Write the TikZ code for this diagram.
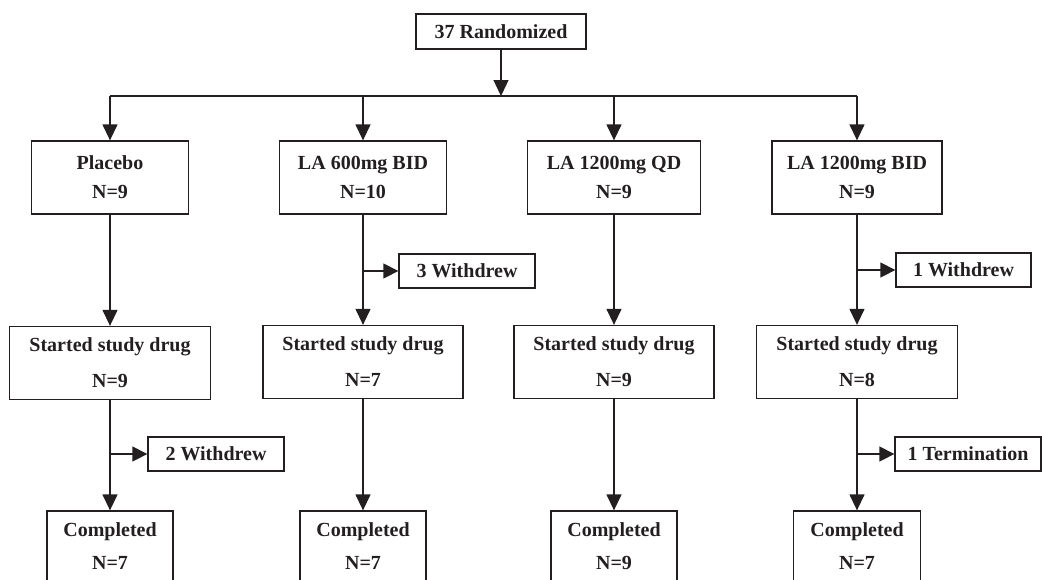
\documentclass[tikz,border=0pt]{standalone}
\usepackage{fontspec}
\setmainfont{Liberation Serif}
\usetikzlibrary{arrows.meta}
\definecolor{ink}{HTML}{231F20}
\begin{document}
\begin{tikzpicture}[x=1pt,y=-1pt,
  box/.style={draw=ink, text=ink, line width=1.3pt, inner sep=0pt, align=center,
    font=\fontsize{20}{24}\selectfont\bfseries},
  link/.style={draw=ink, line width=1.3pt},
  arr/.style={link, -{Triangle[length=16pt,width=15pt]}},
  sarr/.style={link, -{Triangle[length=15pt,width=15pt]}}]
\useasboundingbox (0,0) rectangle (1042,579);
% top
\node[box, minimum width=170pt, minimum height=35pt] (top) at (501,31.5) {37 Randomized};
% row 1
\node[box, minimum width=157pt, minimum height=73pt] (P1) at (110,177.5) {Placebo\\[5pt]N=9};
\node[box, minimum width=167pt, minimum height=73pt] (A1) at (363,177.5) {LA 600mg BID\\[5pt]N=10};
\node[box, minimum width=173pt, minimum height=73pt] (Q1) at (614,177.5) {LA 1200mg QD\\[5pt]N=9};
\node[box, minimum width=170pt, minimum height=73pt] (B1) at (857,177.5) {LA 1200mg BID\\[5pt]N=9};
% row 2
\node[box, minimum width=201pt, minimum height=73pt] (P2) at (110,363) {Started study drug\\[12pt]N=9};
\node[box, minimum width=200pt, minimum height=73pt] (A2) at (363,362) {Started study drug\\[12pt]N=7};
\node[box, minimum width=200pt, minimum height=73pt] (Q2) at (614,362) {Started study drug\\[12pt]N=9};
\node[box, minimum width=201pt, minimum height=73pt] (B2) at (857,362) {Started study drug\\[12pt]N=8};
% row 3
\node[box, minimum width=126pt, minimum height=70pt] (P3) at (110,546) {Completed\\[9pt]N=7};
\node[box, minimum width=126pt, minimum height=70pt] (A3) at (363,546) {Completed\\[9pt]N=7};
\node[box, minimum width=126pt, minimum height=70pt] (Q3) at (614,546) {Completed\\[9pt]N=9};
\node[box, minimum width=127pt, minimum height=70pt] (B3) at (857,546) {Completed\\[9pt]N=7};
% side boxes
\node[box, minimum width=136pt, minimum height=34pt] (W3) at (467,271) {3 Withdrew};
\node[box, minimum width=135pt, minimum height=34pt] (W1) at (963.5,270) {1 Withdrew};
\node[box, minimum width=136pt, minimum height=34pt] (W2) at (216,454) {2 Withdrew};
\node[box, minimum width=146pt, minimum height=34pt] (T1) at (968,454) {1 Termination};
% split
\coordinate (split) at (501,96);
\draw[arr] (top.south) -- (split);
\draw[link] (P1.north |- split) -- (B1.north |- split);
\foreach \n in {P1,A1,Q1,B1}{
  \draw[arr] (\n.north |- split) -- (\n.north);
}
% vertical flows
\draw[arr] (P1.south) -- (P2.north);
\draw[arr] (A1.south) -- (A2.north);
\draw[arr] (Q1.south) -- (Q2.north);
\draw[arr] (B1.south) -- (B2.north);
\draw[arr] (P2.south) -- (P3.north);
\draw[arr] (A2.south) -- (A3.north);
\draw[arr] (Q2.south) -- (Q3.north);
\draw[arr] (B2.south) -- (B3.north);
% side arrows
\draw[sarr] (A1.south |- W3.west) -- (W3.west);
\draw[sarr] (B1.south |- W1.west) -- (W1.west);
\draw[sarr] (P2.south |- W2.west) -- (W2.west);
\draw[sarr] (B2.south |- T1.west) -- (T1.west);
\end{tikzpicture}
\end{document}
